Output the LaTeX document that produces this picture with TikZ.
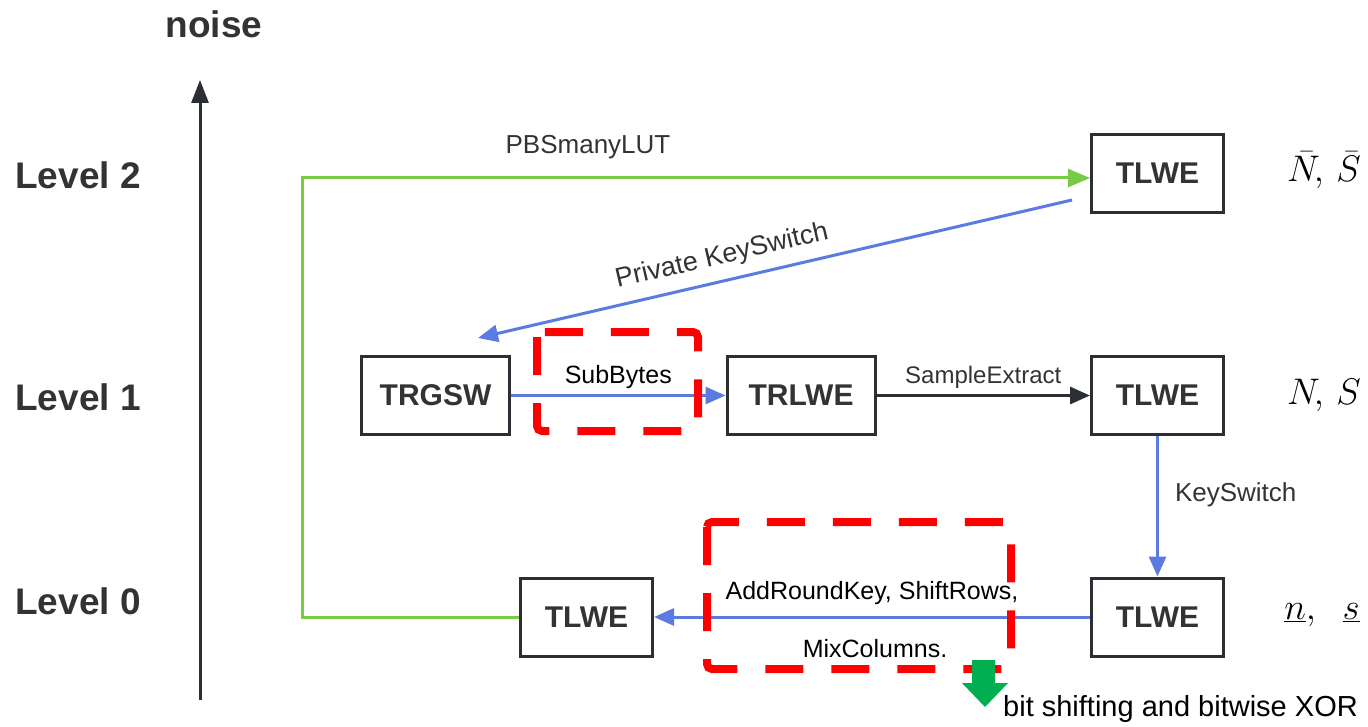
\RequirePackage{fix-cm}
\documentclass[tikz,border=0pt]{standalone}
\usepackage{fontspec}
\setmainfont{Liberation Sans}
\usetikzlibrary{arrows.meta}
\definecolor{boxline}{HTML}{2B2F33}
\definecolor{txt}{HTML}{333333}
\definecolor{bluec}{HTML}{5B7BE3}
\definecolor{greenc}{HTML}{77CC44}
\definecolor{redc}{HTML}{FF0000}
\definecolor{arrowgreen}{HTML}{00B050}
\newcommand{\myfs}[1]{\fontsize{#1}{#1}\selectfont}
\begin{document}
\begin{tikzpicture}[x=1pt,y=-1pt,
  box/.style={draw=boxline, line width=3pt, minimum height=78pt, inner sep=0pt, text=txt, font=\myfs{30}\bfseries},
  tlwe/.style={box, minimum width=132pt},
  widebox/.style={box, minimum width=148pt},
  conn/.style={line width=3pt},
  bluearr/.style={conn, draw=bluec, -{Triangle[length=20pt,width=17pt]}},
  blackarr/.style={conn, draw=boxline, -{Triangle[length=20pt,width=17pt]}},
  greenarr/.style={conn, draw=greenc, -{Triangle[length=22pt,width=18pt]}},
  lab/.style={text=txt, font=\myfs{26}, inner sep=0pt},
  blab/.style={text=black, font=\myfs{25}, inner sep=0pt},
  lvl/.style={text=txt, font=\myfs{37}\bfseries, inner sep=0pt},
  mathlab/.style={text=black, font=\myfs{37}, inner sep=0pt},
  redbox/.style={draw=redc, line width=8pt, dash pattern=on 38pt off 28pt, rounded corners=5pt}
]
\useasboundingbox (0,0) rectangle (1368,727);

% axis and level labels
\coordinate (axbot) at (200,700);
\coordinate (axtop) at (200,80);
\draw[line width=3pt, draw=boxline, -{Triangle[length=23pt,width=17pt]}] (axbot) -- (axtop);
\node[lvl] (noise) at (214,24) {noise};
\node[lvl] (lv2) at (78,175) {Level 2};
\node[lvl] (lv1) at (78,397) {Level 1};
\node[lvl] (lv0) at (78,601) {Level 0};

% boxes
\node[tlwe] (t2) at (1157.5,173.5) {TLWE};
\node[widebox] (trgsw) at (435.5,395.5) {TRGSW};
\node[widebox] (trlwe) at (801,395.5) {TRLWE};
\node[tlwe] (t1) at (1157.5,395.5) {TLWE};
\node[tlwe] (t0r) at (1157.5,617) {TLWE};
\node[tlwe] (t0l) at (586.5,617) {TLWE};

% parameter labels
\node[mathlab] (p2) at (1324,170) {$\bar{N}\!,\,\bar{S}$};
\node[mathlab] (p1) at (1324,395) {$N\!,\,S$};
\node[mathlab] (p0) at (1322,615) {$\underline{n},\ \ \underline{s}$};

% green PBSmanyLUT connector
\coordinate (g1) at (302,617);
\coordinate (g2) at (302,178);
\draw[greenarr] (t0l.west) -- (g1) -- (g2) -- (t2.west |- g2);
\node[lab] (pbs) at (588,147) {PBSmanyLUT};

% private keyswitch
\coordinate (pk1) at (1072,200);
\coordinate (pk2) at (478,338);
\draw[bluearr] (pk1) -- (pk2) node[lab, pos=0.58, sloped, above=10pt, font=\myfs{27}] (pkl) {Private KeySwitch};

% level 1 connectors
\draw[bluearr] (trgsw.east) -- (trlwe.west) node[blab, midway, above=5pt] (sb) {SubBytes};
\draw[blackarr] (trlwe.east) -- (t1.west) node[lab, midway, above=6pt, font=\myfs{24}] (se) {SampleExtract};
\draw[bluearr] (t1.south) -- (t0r.north) node[lab, pos=0.42, right=16pt] (ks) {KeySwitch};

% level 0 connector
\draw[bluearr] (t0r.west) -- (t0l.east)
  node[blab, midway, above=11pt] (ark) {AddRoundKey, ShiftRows,}
  node[blab, midway, below=21pt, xshift=3pt] (mc) {MixColumns.};

% red dashed highlight boxes
\draw[redbox] (537,332) rectangle (698,431);
\draw[redbox] (707,522) rectangle (1011,669);

% green down arrow and note
\fill[arrowgreen] (972,660) -- (995,660) -- (995,683) -- (1008,683) -- (985,707) -- (962,683) -- (972,683) -- cycle;
\node[text=black, font=\myfs{29}, inner sep=0pt, anchor=base west] (note) at (1003,716) {bit shifting and bitwise XOR};
\end{tikzpicture}
\end{document}
